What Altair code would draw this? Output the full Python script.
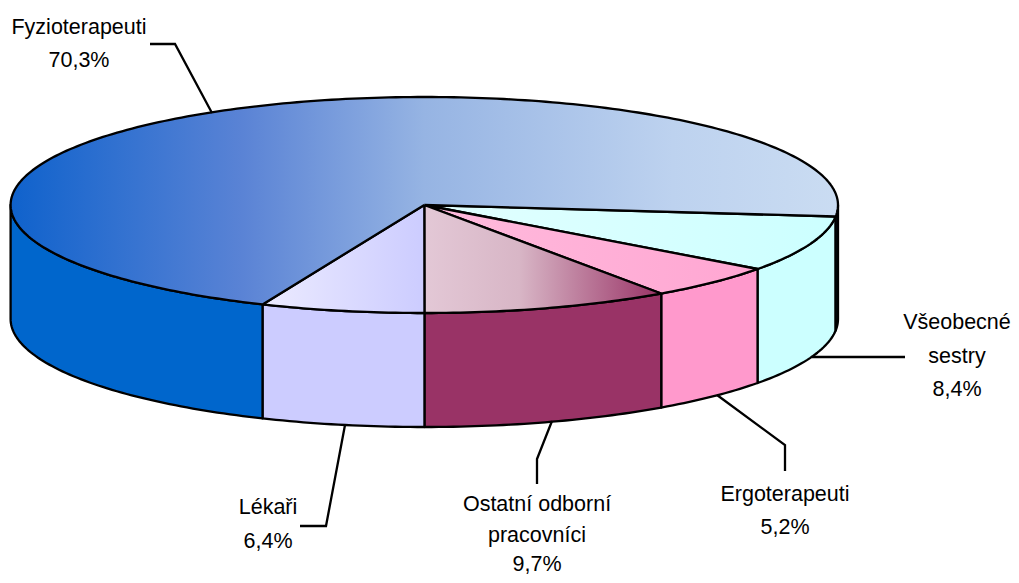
import math
import altair as alt
import pandas as pd

# Values
names = ["Všeobecné sestry", "Ergoterapeuti", "Ostatní odborní pracovníci", "Lékaři", "Fyzioterapeuti"]
shares = [8.4, 5.2, 9.7, 6.4, 70.3]
wall_colors = ["#ccffff", "#ff99cc", "#993366", "#ccccff", "#0066cc"]
top_stops = [
    [(0, "#e2ffff"), (1, "#ccffff")],
    [(0, "#ffbbdd"), (1, "#ffa6d2")],
    [(0, "#e3c8d6"), (0.4, "#d8b6c6"), (1, "#993366")],
    [(0, "#ecebff"), (1, "#ccccff")],
    [(0, "#0f62cc"), (0.28, "#5a83d5"), (0.5, "#96b4e3"), (0.8, "#bdd2ef"), (1, "#cadcf2")],
]
label_lines = [["Všeobecné", "sestry", "8,4%"], ["Ergoterapeuti", "5,2%"],
               ["Ostatní odborní", "pracovníci", "9,7%"], ["Lékaři", "6,4%"],
               ["Fyzioterapeuti", "70,3%"]]
label_x = [957, 785, 537, 268, 79]
label_y = [[323, 357, 390], [495, 528], [505, 536, 565], [508, 542], [28, 61]]
leaders = [[(905, 357), (812, 357)],
           [(785, 471), (785, 445), (717, 395)],
           [(537, 484), (537, 459), (552, 421)],
           [(300, 526), (326, 526), (345, 425)],
           [(150, 44), (175, 44), (212, 113)]]

CX, CY, RX, RY, DEPTH, START = 424.3, 205, 413.7, 108, 114, 6.1
LW = 2.3

xs = alt.Scale(domain=[8, 1011], range=[0, 1003], nice=False, zero=False)
ys = alt.Scale(domain=[8, 575], range=[0, 567], nice=False, zero=False)
X = lambda f="x": alt.X(f"{f}:Q", scale=xs, axis=None)
Y = lambda f="y": alt.Y(f"{f}:Q", scale=ys, axis=None)


def rim(t):
    r = math.radians(t)
    return CX + RX * math.cos(r), CY + RY * math.sin(r)


def arc(a, b):
    n = max(2, int(round(abs(b - a))) + 1)
    return [a + (b - a) * k / (n - 1) for k in range(n)]


def grad(stops):
    return alt.LinearGradient(gradient="linear", x1=0, x2=1, y1=0, y2=0,
                              stops=[alt.GradientStop(offset=o, color=c) for o, c in stops])


def wall(a, b, color):
    rows = []
    for t in arc(a, b):
        x, y = rim(t)
        rows.append({"x": x, "y": y, "y2": y + DEPTH})
    return alt.Chart(pd.DataFrame(rows)).mark_area(
        fill=color, stroke="black", strokeWidth=LW, strokeJoin="round", interpolate="linear"
    ).encode(x=X(), y=Y(), y2=alt.Y2("y2:Q"))


walls, tops = [], []
angle = START
for share, wc, stops in zip(shares, wall_colors, top_stops):
    end = angle + share * 3.6
    # visible front part of the side
    if angle < 180:
        walls.append(wall(angle, min(end, 180), wc))
    if end > 360:
        walls.append(wall(0, end - 360, wc))
    pts = [(CX, CY)] + [rim(t) for t in arc(angle, end)] + [(CX, CY)]
    df = pd.DataFrame([{"x": p[0], "y": p[1], "i": k} for k, p in enumerate(pts)])
    tops.append(alt.Chart(df).mark_line(
        fill=grad(stops), stroke="black", strokeWidth=LW, strokeJoin="round", interpolate="linear"
    ).encode(x=X(), y=Y(), order=alt.Order("i:Q")))
    angle = end

lead_rows = [{"x": p[0], "y": p[1], "i": k, "s": names[s]}
             for s, line in enumerate(leaders) for k, p in enumerate(line)]
lead = alt.Chart(pd.DataFrame(lead_rows)).mark_line(
    color="black", strokeWidth=LW, interpolate="linear"
).encode(x=X(), y=Y(), detail="s:N", order=alt.Order("i:Q"))

text_rows = [{"x": lx, "y": ly, "t": line}
             for lines, lx, lys in zip(label_lines, label_x, label_y)
             for line, ly in zip(lines, lys)]
text = alt.Chart(pd.DataFrame(text_rows)).mark_text(
    font="Liberation Sans", fontSize=21.5, color="black", align="center", baseline="middle"
).encode(x=X(), y=Y(), text="t:N")

chart = alt.layer(*walls, *tops, lead, text).properties(
    width=1003, height=567, padding=0,
    autosize=alt.AutoSizeParams(type="none"),
).configure_view(stroke=None)

chart.save("out.html", embed_options={"renderer": "svg", "actions": False})
